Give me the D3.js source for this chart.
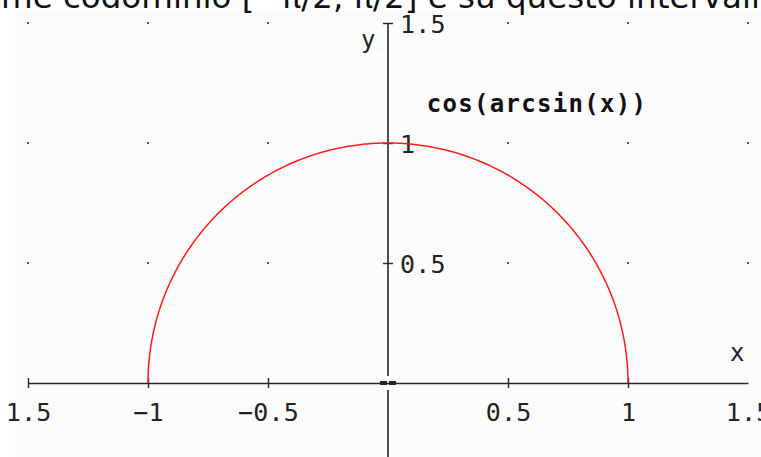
<!DOCTYPE html>
<html>
<head>
<meta charset="utf-8">
<script src="https://cdn.jsdelivr.net/npm/d3@7"></script>
<style>
  html, body { margin: 0; padding: 0; background: #ffffff; }
  svg { display: block; }
</style>
</head>
<body>
<svg id="chart" width="761" height="457"></svg>
<script>
// Plot of y = cos(arcsin(x)) on [-1, 1]
const functionLabel = "cos(arcsin(x))";
const f = x => Math.cos(Math.asin(x));

const xTicks = [-1.5, -1, -0.5, 0.5, 1, 1.5];
const xTickLabels = ["1.5", "\u22121", "\u22120.5", "0.5", "1", "1.5"];
const yTicks = [0.5, 1, 1.5];
const yTickLabels = ["0.5", "1", "1.5"];
const gridX = [-1.5, -1, -0.5, 0.5, 1, 1.5];
const gridY = [0.5, 1, 1.5];
const headline = "me codominio [\u2212\u03c0/2, \u03c0/2] e su questo intervallo";

const W = 761, H = 457;
const svg = d3.select("#chart");

const x = d3.scaleLinear().domain([-1.5, 1.5]).range([28, 748]);
const y = d3.scaleLinear().domain([0, 1.5]).range([383, 23]);

const mono = "'DejaVu Sans Mono', 'Liberation Mono', monospace";
const axisColor = "#262626";

// plot panel background
svg.append("rect")
  .attr("x", 15).attr("y", 10)
  .attr("width", W - 15).attr("height", H - 10)
  .attr("fill", "#fbfbfb");

// clipped line of running text above the plot
svg.append("text")
  .attr("x", 1).attr("y", 8)
  .attr("font-family", "'DejaVu Sans', Verdana, sans-serif")
  .attr("font-size", 32.5)
  .attr("fill", "#111")
  .text(headline);

// grid dots
const dots = [];
gridX.forEach(gx => gridY.forEach(gy => dots.push([gx, gy])));
svg.append("g").selectAll("rect").data(dots).join("rect")
  .attr("x", d => x(d[0]) - 1).attr("y", d => y(d[1]) - 1)
  .attr("width", 2).attr("height", 2)
  .attr("fill", "#555");

// x axis
const gx = svg.append("g")
  .attr("transform", `translate(0,${y(0)})`)
  .call(d3.axisBottom(x).tickValues(xTicks).tickSizeOuter(0)
    .tickFormat((d, i) => xTickLabels[i]));
gx.select(".domain").attr("stroke", axisColor).attr("stroke-width", 1.6);
gx.selectAll(".tick line")
  .attr("y1", -5).attr("y2", 5)
  .attr("stroke", axisColor).attr("stroke-width", 1.4)
  .attr("display", d => d === 1.5 ? "none" : null);
gx.selectAll(".tick text")
  .attr("y", 38).attr("dy", null)
  .attr("font-family", mono).attr("font-size", 25)
  .attr("letter-spacing", 0.2)
  .attr("fill", "#222");

// y axis: ticks and labels, axis line drawn with a gap at the origin
const gy = svg.append("g")
  .attr("transform", `translate(${x(0)},0)`)
  .call(d3.axisRight(y).tickValues(yTicks).tickSizeOuter(0)
    .tickFormat((d, i) => yTickLabels[i]));
gy.select(".domain").remove();
gy.selectAll(".tick line")
  .attr("x1", -5).attr("x2", 5)
  .attr("stroke", axisColor).attr("stroke-width", 1.4);
gy.selectAll(".tick text")
  .attr("x", 12).attr("dy", "0.36em")
  .attr("text-anchor", "start")
  .attr("font-family", mono).attr("font-size", 25)
  .attr("letter-spacing", 0.2)
  .attr("fill", "#222");

const axisLines = [
  [y(1.5), y(0) - 7],
  [y(0) + 7, H]
];
svg.append("g").selectAll("line").data(axisLines).join("line")
  .attr("x1", x(0)).attr("x2", x(0))
  .attr("y1", d => d[0]).attr("y2", d => d[1])
  .attr("stroke", axisColor).attr("stroke-width", 1.6);

// small marks at the origin
svg.append("g").selectAll("rect").data([-1, 1]).join("rect")
  .attr("x", d => d < 0 ? x(0) - 8 : x(0) + 1)
  .attr("y", y(0) - 2).attr("width", 7).attr("height", 4)
  .attr("fill", axisColor);

// axis names
svg.append("text")
  .attr("x", x(0) - 27).attr("y", 48)
  .attr("font-family", mono).attr("font-size", 24)
  .attr("fill", "#222").text("y");
svg.append("text")
  .attr("x", x(1.5) - 18).attr("y", 361)
  .attr("font-family", mono).attr("font-size", 24)
  .attr("fill", "#222").text("x");

// curve, sampled more densely towards x = ±1 where it turns vertical
const samples = d3.range(0, 401).map(i => Math.sin(-Math.PI / 2 + Math.PI * i / 400));
const line = d3.line().x(d => x(d)).y(d => y(f(d)));
svg.append("path")
  .datum(samples)
  .attr("d", line)
  .attr("fill", "none")
  .attr("stroke", "#ff1a1a")
  .attr("stroke-width", 1.5);

// function label
svg.append("text")
  .attr("x", 537).attr("y", 112)
  .attr("text-anchor", "middle")
  .attr("font-family", mono).attr("font-size", 24)
  .attr("font-weight", "bold")
  .attr("letter-spacing", 1.3)
  .attr("fill", "#111")
  .text(functionLabel);
</script>
</body>
</html>
